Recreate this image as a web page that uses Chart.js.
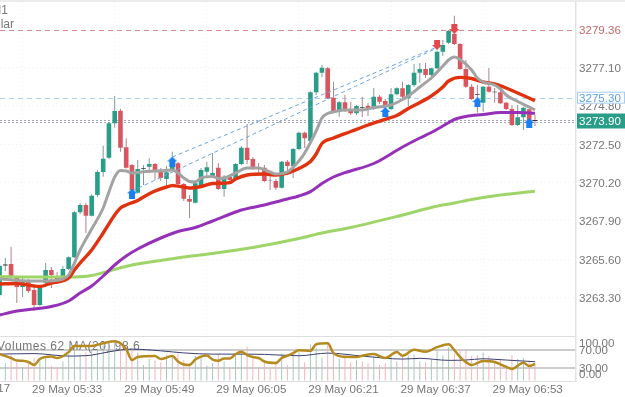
<!DOCTYPE html>
<html>
<head>
<meta charset="utf-8">
<title>M1 candlesticks</title>
<style>
  html, body { margin: 0; padding: 0; background: #fff; }
  canvas { display: block; }
</style>
<script src="https://cdn.jsdelivr.net/npm/chart.js@4/dist/chart.umd.min.js"></script>
</head>
<body>
<canvas id="chart" width="625" height="397"></canvas>
<script>
// Bar number 0 is the 05:21 candle; one candle per minute.
const opens = [3263.46,3265.23,3265.32,3264.48,3263.94,3264.24,3263.76,3262.86,3264.2,3264.96,3264.48,3264.48,3265.02,3265.72,3268.42,3268.86,3268.22,3269.46,3270.84,3271.7,3273.76,3274.52,3272.32,3271.26,3269.6,3271.04,3271.16,3271.32,3270.92,3270.42,3270.96,3271.36,3270.12,3269.22,3269,3270.06,3270.86,3270.6,3271.1,3269.82,3270.56,3270.36,3271.32,3272.3,3271.62,3271.08,3271.1,3270.32,3270.3,3269.9,3271.46,3271.2,3272.22,3273.2,3272.7,3275.62,3276.8,3277.06,3275.3,3274.46,3275.02,3274.56,3274.36,3274.74,3274.82,3274.62,3275.36,3275.1,3274.62,3275.5,3275.86,3275.28,3276.06,3276.8,3277.02,3276.66,3277.06,3278.06,3278.6,3279.12,3278.52,3277.02,3275.96,3275.5,3275,3275.96,3275.66,3275.62,3275,3274.62,3273.66,3274.12,3274.6,3273.96];
const highs = [3265.44,3265.68,3266.36,3264.6,3264.48,3264.42,3263.94,3264.06,3265.38,3265.14,3264.84,3265.2,3265.78,3268.5,3268.98,3268.98,3269.5,3270.96,3272.42,3273.84,3275.4,3274.62,3272.86,3271.32,3271.56,3271.26,3271.66,3271.38,3271.08,3271.22,3272.06,3271.44,3270.18,3269.46,3270.36,3271.08,3271.44,3271.98,3271.38,3270.66,3270.66,3271.38,3272.4,3273.72,3271.74,3271.38,3271.26,3270.66,3270.42,3271.5,3271.56,3272.28,3273.26,3273.26,3275.68,3276.86,3277.26,3277.14,3276.26,3275.1,3275.46,3275.04,3274.86,3275.34,3274.98,3275.88,3275.46,3275.22,3275.88,3275.92,3276.26,3276.12,3277.32,3277.38,3277.38,3277.1,3278.12,3278.76,3279.36,3280.22,3278.58,3277.56,3276.12,3276.06,3276,3277.08,3275.88,3275.7,3275.06,3274.86,3274.86,3274.76,3274.66,3274.26];
const lows = [3263.34,3264.9,3264.36,3262.98,3263.34,3263.58,3262.52,3262.8,3263.94,3263.88,3264.12,3264.36,3264.96,3265.68,3268.32,3267.18,3268.17,3269.34,3270.56,3271.62,3273.5,3272.06,3271.05,3269.64,3269.55,3270.06,3270.78,3270.36,3270.3,3269.88,3270.9,3270.06,3269.1,3268.08,3268.95,3269.94,3270.48,3270.48,3269.76,3269.36,3270.24,3270.3,3271.26,3271.32,3270.96,3270.66,3270.24,3269.76,3269.76,3269.85,3270.66,3270.48,3272.16,3272.28,3272.58,3275.46,3276.52,3275.22,3274.38,3274.16,3274.44,3274.26,3274.26,3274.14,3274.2,3274.56,3274.92,3274.74,3274.56,3275.44,3275.16,3274.8,3275.94,3276.2,3276.48,3276.36,3277.02,3277.8,3278.52,3278.46,3276.96,3275.88,3275.16,3274.4,3274.46,3275.61,3275,3274.92,3274.56,3273.6,3273.6,3273.36,3273.54,3273.6];
const closes = [3265.22,3265.29,3264.48,3263.94,3264.24,3263.7,3262.86,3263.94,3264.96,3264.66,3264.24,3265.02,3265.72,3268.42,3268.86,3268.22,3269.42,3270.84,3271.64,3273.76,3274.5,3272.3,3271.1,3269.76,3271.02,3271.08,3271.32,3270.96,3270.48,3270.82,3271.14,3270.12,3269.24,3269.06,3270.16,3270.96,3271.12,3270.78,3269.82,3270.56,3270.36,3271.32,3272.3,3271.56,3271.1,3271.06,3270.3,3270.3,3269.9,3271.46,3271.2,3272.22,3273.2,3272.86,3275.62,3276.8,3277.1,3275.26,3274.46,3275.02,3274.56,3274.36,3274.8,3274.7,3274.62,3275.36,3275.06,3274.8,3275.5,3275.86,3275.36,3276.06,3276.8,3277.02,3276.66,3277.06,3278.06,3278.46,3279.32,3278.52,3277.02,3275.96,3275.22,3275.46,3275.96,3275.66,3275.62,3274.96,3274.62,3273.66,3274.12,3274.7,3273.9,3273.9];

// Moving averages over the price: [bar number, price]
const fastMa = [[0,3264.42],[5,3264.3],[8,3264.3],[11,3264.42],[12,3264.66],[14,3266.16],[16,3267.42],[18,3268.68],[19,3269.64],[20,3270.54],[21,3270.93],[22,3270.9],[23,3270.78],[25,3270.86],[28,3270.92],[30,3270.96],[31,3270.78],[32,3270.48],[33,3270.27],[34,3270.24],[35,3270.48],[37,3270.57],[38,3270.45],[39,3270.48],[41,3270.78],[43,3271.08],[45,3271.08],[47,3270.84],[48,3270.72],[50,3270.84],[52,3271.5],[53,3271.98],[55,3273.3],[56,3274.08],[57,3274.35],[58,3274.44],[60,3274.56],[63,3274.56],[65,3274.71],[68,3274.86],[70,3275.19],[71,3275.4],[73,3275.94],[75,3276.48],[77,3277.2],[78,3277.56],[79,3277.74],[80,3277.59],[82,3276.96],[83,3276.48],[84,3276.24],[86,3276.06],[87,3275.82],[88,3275.46],[90,3275.07],[92,3274.74],[93,3274.56]];
const midMa = [[0,3264.12],[3,3264.15],[6,3264],[7,3263.97],[9,3264.18],[12,3264.48],[13,3264.96],[14,3265.38],[16,3266.16],[18,3267.18],[20,3268.26],[21,3268.68],[22,3268.86],[24,3269.13],[25,3269.34],[27,3269.7],[29,3269.94],[30,3270.02],[32,3269.94],[33,3269.88],[35,3269.97],[37,3270.15],[40,3270.2],[41,3270.42],[43,3270.66],[46,3270.72],[48,3270.66],[50,3270.78],[52,3271.05],[54,3271.47],[55,3271.92],[56,3272.55],[58,3272.88],[61,3273.27],[64,3273.66],[67,3274],[69,3274.23],[71,3274.65],[72,3274.83],[75,3275.4],[77,3275.94],[78,3276.3],[80,3276.52],[82,3276.45],[84,3276.24],[86,3276.12],[88,3275.88],[91,3275.43],[93,3275.12]];
const slowMa = [[0,3262.26],[3,3262.5],[6,3262.62],[9,3262.77],[12,3263.1],[14,3263.58],[16,3264],[18,3264.6],[20,3265.26],[22,3265.8],[24,3266.22],[28,3266.88],[31,3267.27],[34,3267.51],[37,3267.9],[42,3268.56],[46,3268.86],[50,3269.22],[52,3269.4],[54,3269.66],[56,3270.15],[58,3270.54],[60,3270.8],[65,3271.35],[70,3272.34],[73,3272.88],[75,3273.21],[77,3273.6],[79,3273.99],[81,3274.17],[84,3274.29],[87,3274.41],[90,3274.41],[93,3274.36]];
const longMa = [[0,3264.57],[6,3264.54],[12,3264.54],[16,3264.63],[19,3264.9],[23,3265.26],[28,3265.53],[32,3265.74],[37,3265.95],[44,3266.31],[52,3266.85],[56,3267.18],[61,3267.51],[69,3268.17],[75,3268.71],[79,3268.98],[82,3269.19],[87,3269.46],[93,3269.68]];

// Two channel lines drawn between signal bars
const trendUpper = [[30,3271.74],[76,3278.34]];
const trendLower = [[23,3269.7],[76,3278.28]];

// Signal arrows: [bar number, price]
const buySignals = [[23,3269.55],[30,3271.47],[67,3274.44],[83,3275.04],[92,3273.78]];
const sellSignals = [[76,3278.46],[79,3279.42]];

// Lower pane: per-bar volume, its MA and the slower reference line
const volumes = [55,40,58,42,30,38,52,48,55,34,30,44,60,82,60,66,70,72,80,86,92,88,66,72,64,36,50,46,42,58,54,62,48,40,56,52,34,40,60,44,30,58,60,78,50,30,48,28,44,62,36,60,66,42,82,74,52,88,66,50,52,42,48,44,40,56,36,40,60,44,56,58,60,44,42,48,70,58,76,62,72,68,56,58,64,56,42,50,36,58,50,52,46,42];
const volumeMa = [[0,60.4],[2,51.6],[3,46],[4,45.6],[5,42.7],[6,36],[7,49.3],[9,54.9],[10,51.6],[12,64.9],[13,78.9],[16,78.9],[18,84.9],[20,89.3],[22,71.6],[23,47.1],[24,53.8],[27,56],[28,49.3],[30,56],[31,43.8],[32,37.1],[33,36],[34,48.2],[35,54.9],[36,57.1],[37,48.2],[38,45.6],[39,50.4],[40,50.4],[41,60.4],[42,65.6],[43,58.2],[44,53.8],[45,51.6],[46,43.8],[48,40.4],[49,51.6],[50,56.7],[51,62.7],[52,69.3],[54,67.8],[55,82.7],[57,84.9],[58,62.7],[60,54.4],[62,53.8],[63,56.7],[65,60.4],[67,51.6],[69,64.9],[70,56.7],[72,70.4],[74,65.6],[76,76],[78,82.7],[79,69.3],[80,53.8],[81,42.7],[82,36],[84,44.9],[86,42.7],[88,31.6],[89,27.1],[91,41.1],[92,33.8],[93,38.2]];
const volumeSlow = [[0,60.4],[6,61.6],[12,56],[16,58.2],[19,65.6],[23,71.6],[28,67.8],[32,63.1],[37,60.4],[41,60.4],[46,59.8],[52,56.7],[57,62.7],[63,56],[70,49.3],[73,50.9],[78,46.4],[81,47.1],[84,50],[86,48.7],[90,45.6],[93,43.3]];

// Axis ticks and labels
const priceTicks = [3277.10,3274.80,3272.50,3270.20,3267.90,3265.60,3263.30];
const paneTicks = [100,70,30,0];
const timeTicks = [12,28,44,60,76,92];
const timeLabels = ['29 May 05:33','29 May 05:49','29 May 06:05','29 May 06:21','29 May 06:37','29 May 06:53'];
const leadingTime = { bar: -4, text: '29 May 05:17' };

// Price levels
const stopLevel = 3279.36;
const targetLevel = 3275.30;
const lastPrice = 3273.90;

const FONT = '"Liberation Sans", Arial, sans-serif';
const UP = '#2a9d88', DOWN = '#d9555f', TEXT = '#777777';

const points = list => list.map(([x, y]) => ({ x, y }));
const bars = list => list.map((y, x) => ({ x, y }));

function arrowIcon(color, down) {
  const c = document.createElement('canvas');
  c.width = 10; c.height = 10;
  const g = c.getContext('2d');
  if (down) { g.translate(0, 10); g.scale(1, -1); }
  g.fillStyle = color;
  g.beginPath();
  g.moveTo(5, 0); g.lineTo(10, 5); g.lineTo(8, 5); g.lineTo(8, 10);
  g.lineTo(2, 10); g.lineTo(2, 5); g.lineTo(0, 5);
  g.closePath();
  g.fill();
  return c;
}

const candleColors = opens.map((o, i) =>
  Math.abs(o - closes[i]) < 0.08 ? '#333333' : (closes[i] >= o ? UP : DOWN));
const wickColors = opens.map((o, i) => (closes[i] >= o ? '#7f9c95' : '#b08488'));
const volumeColors = opens.map((o, i) => (closes[i] >= o ? '#a9c6bb' : '#f0b4ba'));

const maLine = (data, color, width, order, yAxisID = 'y') => ({
  type: 'line', data: points(data), borderColor: color, borderWidth: width,
  pointRadius: 0, tension: 0.4, cubicInterpolationMode: 'monotone',
  fill: false, yAxisID, order
});
const trendLine = (data, order) => ({
  type: 'line', data: points(data), borderColor: '#6ea6e2', borderWidth: 1,
  borderDash: [4, 3], pointRadius: 0, tension: 0, fill: false, yAxisID: 'y', order
});
const signals = (data, color, down) => ({
  type: 'line', data: points(data), showLine: false, pointRadius: 5,
  pointStyle: arrowIcon(color, down), yAxisID: 'y', order: 1
});

// Vertical axes keep their pane exactly; the top and bottom labels never overhang it
const fitPane = s => { s.width = 49; s.paddingTop = 0; s.paddingBottom = 0; };

// Grid background, price levels and text the axes cannot place
const decorations = {
  id: 'decorations',
  beforeDraw(chart) {
    const ctx = chart.ctx;
    ctx.save();
    ctx.fillStyle = '#fff';
    ctx.fillRect(0, 0, 625, 397);
    ctx.fillStyle = '#ececec';
    ctx.fillRect(0, 0, 625, 2);
    ctx.restore();
  },
  beforeDatasetsDraw(chart) {
    const { ctx, chartArea, scales } = chart;
    const y = scales.y, v = scales.v;
    const hLine = (yp, color, dash) => {
      ctx.beginPath();
      ctx.setLineDash(dash);
      ctx.strokeStyle = color;
      ctx.lineWidth = 1;
      ctx.moveTo(0, yp); ctx.lineTo(chartArea.right, yp);
      ctx.stroke();
    };
    ctx.save();
    hLine(Math.round(y.getPixelForValue(stopLevel)) + 0.5, '#d98a8a', [5, 4]);
    hLine(Math.round(y.getPixelForValue(targetLevel)) + 0.5, '#a9d2f2', [5, 4]);
    const last = Math.round(y.getPixelForValue(lastPrice));
    hLine(last - 0.5, '#a6a6b6', [2, 2]);
    hLine(last + 1.5, '#a6a6b6', [2, 2]);

    ctx.setLineDash([]);
    ctx.fillStyle = TEXT;
    ctx.font = '12px ' + FONT;
    ctx.textBaseline = 'middle';
    ctx.textAlign = 'right';
    ctx.fillText('M1', 8, 11);
    ctx.fillText('Gold Spot vs US Dollar', 14, 25);
    ctx.textAlign = 'left';
    ctx.letterSpacing = '0.5px';
    ctx.fillText('Volumes 62 MA(20) 98.6', -3, v.getPixelForValue(100) + 10);
    ctx.restore();
  },
  afterDraw(chart) {
    const { ctx, chartArea, scales } = chart;
    const y = scales.y, v = scales.v, x = scales.x;
    const right = chartArea.right;
    const labelX = right + 3;
    ctx.save();
    ctx.font = '11.6px ' + FONT;
    ctx.textBaseline = 'middle';
    ctx.textAlign = 'left';

    // Lower pane scale; the outer two labels are held inside the pane
    const nudge = { 100: 7, 70: 1, 30: 1, 0: -6.5 };
    ctx.fillStyle = TEXT;
    paneTicks.forEach(t => {
      ctx.fillText(t.toFixed(2), labelX, v.getPixelForValue(t) + nudge[t]);
    });

    // Price tags
    const stopY = y.getPixelForValue(stopLevel);
    ctx.fillStyle = '#c9686c';
    ctx.fillText(stopLevel.toFixed(2), labelX, stopY + 1);

    const targetY = y.getPixelForValue(targetLevel);
    ctx.fillStyle = '#fff';
    ctx.fillRect(right + 1, targetY - 6, 48, 12);
    ctx.strokeStyle = '#a6cdf2';
    ctx.lineWidth = 1;
    ctx.strokeRect(right + 1.5, targetY - 5.5, 47, 11);
    ctx.fillStyle = '#5b9fe6';
    ctx.fillText(targetLevel.toFixed(2), labelX, targetY + 1);

    const lastY = y.getPixelForValue(lastPrice);
    ctx.fillStyle = '#2a9d88';
    ctx.fillRect(right + 1, lastY - 7.5, 48, 15);
    ctx.fillStyle = '#fff';
    ctx.fillText(lastPrice.toFixed(2), labelX, lastY + 1);

    // The 05:17 label starts past the left edge, so the axis cannot carry it
    ctx.fillStyle = TEXT;
    ctx.textAlign = 'center';
    ctx.fillText(leadingTime.text, x.getPixelForValue(leadingTime.bar) - 1.5, 389);
    ctx.restore();
  }
};

new Chart(document.getElementById('chart'), {
  type: 'bar',
  data: {
    datasets: [
      { data: bars(volumes), backgroundColor: volumeColors, barThickness: 1, grouped: false, inflateAmount: 0, yAxisID: 'v', order: 20 },
      { data: bars(opens.map((o, i) => [lows[i], highs[i]])), backgroundColor: wickColors, barThickness: 1, grouped: false, inflateAmount: 0, yAxisID: 'y', order: 11 },
      { data: bars(opens.map((o, i) => [o, closes[i]])), backgroundColor: candleColors, barThickness: 4.6, grouped: false, inflateAmount: 0, yAxisID: 'y', order: 10 },
      trendLine(trendUpper, 8),
      trendLine(trendLower, 8),
      maLine(longMa, '#9fd568', 3, 7),
      maLine(slowMa, '#9531b9', 3, 6),
      maLine(midMa, '#e0320f', 3.4, 5),
      maLine(fastMa, '#a3a3a3', 3, 4),
      signals(buySignals, '#1b7ff2', false),
      signals(sellSignals, '#e4484c', true),
      maLine(volumeSlow, '#3c3f74', 1, 15, 'v'),
      maLine(volumeMa, '#b58a1f', 2.5, 14, 'v')
    ]
  },
  options: {
    responsive: false,
    animation: false,
    events: [],
    layout: { autoPadding: false, padding: { top: 2, left: 0, right: 0, bottom: 0 } },
    plugins: { legend: { display: false }, tooltip: { enabled: false }, title: { display: false } },
    scales: {
      x: {
        type: 'linear',
        offset: false,
        min: 0.0764,
        max: 100.13,
        afterBuildTicks: s => { s.ticks = timeTicks.map(value => ({ value })); },
        afterFit: s => { s.height = 16; s.paddingLeft = 0; s.paddingRight = 0; },
        ticks: {
          autoSkip: false, maxRotation: 0, padding: 2, labelOffset: -1.5, color: TEXT,
          font: { family: FONT, size: 11.6 },
          callback: value => timeLabels[timeTicks.indexOf(value)]
        },
        grid: { color: '#f1f1f1', drawTicks: false },
        border: { color: '#dddddd', width: 1, dash: [1, 3] }
      },
      y: {
        position: 'right',
        stack: 'panes',
        stackWeight: 334.5,
        min: 3260.97,
        max: 3281.04,
        afterBuildTicks: s => { s.ticks = priceTicks.map(value => ({ value })); },
        afterFit: fitPane,
        ticks: {
          padding: 3, labelOffset: 1, color: TEXT, font: { family: FONT, size: 11.6 },
          callback: value => value.toFixed(2)
        },
        grid: { color: '#f1f1f1', drawTicks: false },
        border: { color: '#e2e2e2', width: 1.5, dash: [1, 3] }
      },
      v: {
        position: 'right',
        stack: 'panes',
        stackWeight: 44.5,
        min: 0,
        max: 100,
        afterBuildTicks: s => { s.ticks = paneTicks.map(value => ({ value })); },
        afterFit: fitPane,
        ticks: { display: false },
        grid: {
          drawTicks: false,
          color: c => (c.tick && (c.tick.value === 70 || c.tick.value === 30)) ? '#cccccc' : '#dedede',
          lineWidth: c => (c.tick && (c.tick.value === 70 || c.tick.value === 30)) ? 2 : 1
        },
        border: { color: '#e2e2e2', width: 1.5 }
      }
    }
  },
  plugins: [decorations]
});
</script>
</body>
</html>
